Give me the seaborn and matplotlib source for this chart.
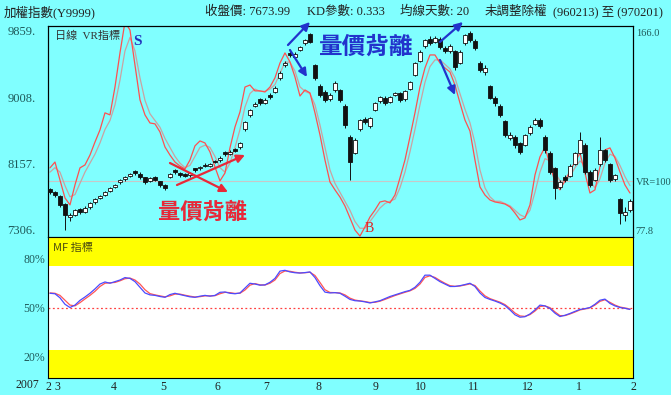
import numpy as np
import pandas as pd
import matplotlib
matplotlib.use('Agg')
import matplotlib.pyplot as plt
import seaborn as sns

sns.set_style('white')
plt.rcParams['font.family'] = ['Liberation Serif', 'Noto Sans CJK TC', 'DejaVu Sans']

# ---------------- data ----------------
opens = [7830,7790,7740,7640,7470,7500,7575,7540,7600,7660,
         7720,7760,7810,7860,7920,7960,8000,8060,8030,7980,
         7940,7990,7930,7880,7990,8070,8040,8025,8010,8090,
         8100,8140,8130,8190,8200,8300,8290,8340,8370,8600,
         8780,8900,8980,8940,9040,9080,9250,9420,9580,9520,
         9620,9700,9820,9420,9150,9080,8980,9100,9100,8900,
         8500,8300,8600,8730,8640,8850,8960,9000,8950,9040,
         9060,8980,9120,9300,9480,9660,9760,9720,9760,9640,
         9600,9600,9450,9700,9830,9730,9450,9330,9150,9000,
         8900,8700,8480,8500,8420,8400,8550,8670,8720,8500,
         8300,8100,7860,7990,8000,8150,8300,8400,8050,7950,
         8150,8330,8150,7960,7700,7500,7560]
closes = [7793,7755,7627,7498,7498,7562,7537,7588,7652,7704,
          7742,7793,7845,7883,7947,7986,8024,8037,7986,7922,
          7973,7947,7883,7845,8024,8050,8011,7999,8037,8076,
          8114,8127,8153,8178,8230,8281,8307,8332,8422,8691,
          8845,8922,8935,8974,9012,9128,9320,9448,9551,9564,
          9654,9744,9718,9256,9038,8974,9038,9192,8974,8653,
          8178,8461,8717,8691,8743,8935,9012,8935,9012,9064,
          8974,9089,9205,9448,9590,9744,9705,9769,9654,9602,
          9667,9397,9590,9808,9744,9641,9359,9384,8999,8935,
          8781,8525,8525,8396,8307,8525,8627,8717,8640,8332,
          8050,7845,7922,7947,8127,8294,8461,8050,7883,8076,
          8332,8204,7947,8011,7524,7537,7674]
highs = [7850,7810,7760,7650,7530,7580,7590,7610,7670,7720,
         7760,7810,7860,7900,7960,8000,8040,8080,8050,7990,
         7990,8000,7940,7890,8040,8090,8050,8040,8050,8100,
         8130,8160,8170,8210,8250,8320,8330,8360,8440,8710,
         8860,8950,9000,9000,9060,9150,9340,9470,9600,9590,
         9670,9760,9833,9440,9180,9100,9060,9220,9120,8920,
         8520,8480,8730,8750,8760,8950,9030,9020,9030,9080,
         9080,9100,9220,9460,9610,9760,9790,9790,9780,9660,
         9690,9620,9610,9820,9859,9750,9470,9420,9170,9020,
         8920,8720,8560,8520,8440,8540,8650,8740,8740,8520,
         8320,8120,7950,8010,8150,8310,8560,8420,8070,8100,
         8500,8350,8170,8030,7720,7600,7700]
lows = [7770,7730,7600,7306,7420,7480,7510,7520,7580,7640,
        7700,7740,7790,7840,7900,7940,7980,8010,7960,7900,
        7920,7930,7860,7820,7970,8030,7990,7980,7990,8050,
        8080,8110,8110,8160,8180,8260,8270,8310,8350,8580,
        8760,8880,8910,8920,8990,9060,9230,9400,9530,9500,
        9600,9680,9700,9230,9010,8950,8960,9080,8950,8620,
        7947,8280,8580,8660,8620,8830,8940,8910,8930,9020,
        8950,8960,9100,9280,9460,9640,9680,9700,9630,9580,
        9580,9360,9430,9680,9720,9620,9330,9300,8980,8900,
        8760,8500,8460,8360,8280,8380,8530,8650,8620,8300,
        8020,7700,7830,7920,7980,8140,8280,8020,7860,7930,
        8130,8180,7920,7940,7384,7420,7540]

vr = [105.9,108.5,100.5,92.5,89.4,98.3,105.9,107.2,111.6,117.4,
      122.8,130.4,129.5,141.9,157.1,170.9,167.3,151.7,136.2,129.5,
      125.9,125.5,121.9,115.2,111.6,108.5,106.7,105.4,109.4,115.7,
      117.9,117.0,113.0,106.3,100.1,103.6,114.8,124.1,130.8,141.9,
      142.8,140.2,140.2,139.7,141.9,146.0,152.6,157.1,153.1,146.4,
      137.9,140.6,139.3,130.4,120.6,109.4,99.6,96.1,92.9,88.9,
      83.6,78.2,75.5,79.6,84.0,87.1,90.7,91.2,90.3,93.8,
      101.4,109.4,119.7,130.4,141.9,150.4,156.2,156.2,152.6,150.4,
      148.6,142.8,134.8,127.2,122.3,109.4,97.4,93.8,91.6,90.7,
      90.3,89.8,88.5,85.8,82.7,83.6,89.4,102.7,110.8,115.2,
      107.2,99.6,96.1,100.1,104.5,108.5,112.5,103.6,94.7,96.1,
      106.3,113.9,114.8,110.3,104.1,98.3,94.7]
vr_avg = [104,106,104,98,93,94,99,104,108,112,
          117,123,127,134,145,158,164,158,146,136,
          130,127,124,119,115,111,108,106,107,111,
          115,116,115,111,106,104,108,115,123,133,
          139,141,140,140,141,143,148,153,153,149,
          142,140,139,134,125,115,105,99,95,91,
          87,82,79,79,82,85,88,90,91,92,
          97,104,113,123,134,144,151,154,154,152,
          150,146,139,132,126,117,105,97,93,91,
          91,90,89,87,85,84,87,95,104,110,
          109,104,100,100,102,106,109,107,100,97,
          101,108,112,111,107,102,98]

mf_blue = [58.8,58.5,56.0,52.0,50.0,51.5,54.4,56.5,58.8,61.5,
           64.5,65.8,65.0,66.0,67.0,68.5,68.0,66.0,62.5,59.0,
           57.8,57.5,56.8,56.3,58.0,58.8,58.0,57.3,56.6,56.3,
           57.0,57.5,57.0,57.5,59.4,59.6,58.8,58.5,59.0,62.0,
           65.0,64.5,63.8,64.0,65.6,68.0,72.5,73.0,72.0,71.5,
           71.3,71.6,72.0,68.5,63.5,59.5,59.0,59.2,58.8,57.0,
           55.0,54.2,54.0,53.5,52.8,53.5,54.2,55.5,56.8,57.8,
           58.8,59.8,60.6,62.5,65.6,70.0,70.0,68.0,66.0,64.5,
           63.0,63.0,63.5,64.2,65.0,63.0,59.0,56.2,55.0,54.0,
           52.8,51.2,48.5,45.5,44.0,44.3,46.0,48.5,51.5,51.0,
           49.4,46.5,44.4,45.2,46.3,47.6,48.8,49.3,50.0,52.0,
           54.5,55.2,52.5,51.0,50.0,49.5,48.8]
mf_red = [59.0,58.8,57.5,54.5,51.5,51.0,53.0,55.3,57.5,60.0,
          63.0,65.0,65.3,65.5,66.5,67.8,68.2,67.0,64.5,61.0,
          58.6,57.8,57.2,56.6,57.2,58.3,58.3,57.6,57.0,56.5,
          56.7,57.2,57.2,57.3,58.5,59.4,59.2,58.7,58.8,60.8,
          63.8,64.8,64.0,63.9,65.0,67.0,71.0,72.6,72.4,71.8,
          71.4,71.5,71.8,69.8,65.5,61.0,59.3,59.2,59.0,57.8,
          55.8,54.6,54.1,53.7,53.1,53.2,53.9,55.0,56.2,57.4,
          58.4,59.4,60.3,61.8,64.5,68.6,69.6,68.6,66.7,65.0,
          63.5,63.1,63.3,63.9,64.6,63.6,60.2,57.2,55.5,54.4,
          53.3,51.8,49.4,46.6,44.8,44.5,45.6,47.8,50.6,51.0,
          49.9,47.3,45.0,45.0,46.0,47.2,48.5,49.1,49.8,51.5,
          53.8,54.8,53.2,51.5,50.3,49.7,49.0]

month_pos = [-0.4, 1.4, 12.8, 22.6, 33.4, 43.2, 53.8, 65.2, 74.2, 84.8, 95.6, 105.8, 116.6]
month_labels = ['2', '3', '4', '5', '6', '7', '8', '9', '10', '11', '12', '1', '2']
price_ticks = [9859, 9008, 8157, 7306]
price_labels = ['9859.', '9008.', '8157.', '7306.']
vr_ticks = [166.0, 100, 77.8]
vr_labels = ['166.0', 'VR=100', '77.8']
mf_ticks = [80, 50, 20]
mf_labels = ['80%', '50%', '20%']

# ---------------- frame ----------------
CYAN = '#80FFFF'
YEL = '#FFFF00'
TEAL = '#1f5a5a'
df = pd.DataFrame({'idx': np.arange(len(closes)), 'open': opens, 'close': closes,
                   'high': highs, 'low': lows, 'vr': vr, 'vr_avg': vr_avg,
                   'mf_blue': mf_blue, 'mf_red': mf_red})

fig = plt.figure(figsize=(6.71, 3.95), dpi=100, facecolor=CYAN)
ax = fig.add_axes([0.0715, 0.4, 0.8718, 0.5342])
ax2 = ax.twinx()
axm = fig.add_axes([0.0715, 0.043, 0.8718, 0.357])

ax.set_zorder(ax2.get_zorder() + 1)
ax.patch.set_visible(False)
ax2.set_facecolor('white')

# VR lines (right axis)
ax2.axhline(100, color='#c8c8c8', lw=0.8, zorder=1)
sns.lineplot(data=df, x='idx', y='vr_avg', ax=ax2, color='#c9a3a3', lw=0.9, legend=False)
sns.lineplot(data=df, x='idx', y='vr', ax=ax2, color='#ff5050', lw=0.9, legend=False)
ax2.set_ylim(75.1, 169.1)
ax2.set_yticks(vr_ticks)
ax2.set_yticklabels(vr_labels, fontsize=7.5, color=TEAL)
ax2.tick_params(axis='y', length=0, pad=2)
ax2.set_ylabel('')
ax2.set_xlabel('')

# Candles (left axis)
o = df['open'].to_numpy(float); c = df['close'].to_numpy(float)
hgt = np.maximum(np.abs(c - o), 24)
bot = (o + c) / 2 - hgt / 2
cols = np.where(c < o, '#111111', 'white')
ax.vlines(df['idx'], df['low'], df['high'], color='#111111', lw=0.7, zorder=2)
ax.bar(df['idx'], hgt, bottom=bot, width=0.75, color=cols, edgecolor='#111111', linewidth=0.6, zorder=3)
ax.set_ylim(7216, 9923)
ax.set_yticks(price_ticks)
ax.set_yticklabels(price_labels, fontsize=9, color=TEAL)
ax.tick_params(axis='y', length=0, pad=9)
ax.set_xlim(-0.4, 116.6)
ax.set_xticks([])
for a in (ax, ax2):
    for s in a.spines.values():
        s.set_color('black'); s.set_linewidth(0.8)

# annotations on the price panel
ax.text(0.012, 0.955, '日線  VR指標', transform=ax.transAxes, fontsize=8, color='#333333',
        va='center', ha='left', family=['Liberation Serif', 'Noto Sans CJK TC'])
ax.text(17.4, 9718, 'S', fontsize=11, color='#2233bb', fontweight='bold', ha='center', va='center')
ax.text(63.8, 7319, 'B', fontsize=10, color='#e02020', ha='center', va='center')
ax.text(30.6, 7537, '量價背離', fontsize=16, color='#e82838', fontweight='bold',
        ha='center', va='center', family=['Noto Sans CJK TC'])
ax.text(63.2, 9654, '量價背離', fontsize=17, color='#2233cc', fontweight='bold',
        ha='center', va='center', family=['Noto Sans CJK TC'])

def arrow(x0, y0, x1, y1, col):
    ax.annotate('', xy=(x1, y1), xytext=(x0, y0), annotation_clip=False,
                arrowprops=dict(arrowstyle='-|>', color=col, lw=1.6, mutation_scale=12,
                                shrinkA=0, shrinkB=0))

arrow(24, 8165, 35.6, 7793, '#e82838')
arrow(25.4, 7883, 39, 8268, '#e82838')
arrow(47.6, 9679, 52, 9974, '#2233cc')
arrow(48, 9615, 51.4, 9269, '#2233cc')
arrow(78, 9718, 82.6, 9974, '#2233cc')
arrow(78, 9487, 81, 9038, '#2233cc')

# ---------------- MF panel ----------------
axm.set_facecolor('white')
axm.axhspan(75.7, 93.6, color=YEL, zorder=0, lw=0)
axm.axhspan(6.4, 23.7, color=YEL, zorder=0, lw=0)
axm.axhline(50, color='#ff4040', lw=0.9, ls=(0, (1.5, 2)), zorder=1)
sns.lineplot(data=df, x='idx', y='mf_red', ax=axm, color='#ff5555', lw=0.9, legend=False)
sns.lineplot(data=df, x='idx', y='mf_blue', ax=axm, color='#4b4bff', lw=0.9, legend=False)
axm.set_ylim(6.4, 93.6)
axm.set_xlim(-0.4, 116.6)
axm.set_yticks(mf_ticks)
axm.set_yticklabels(mf_labels, fontsize=8.5, color=TEAL)
axm.tick_params(axis='y', length=0, pad=2)
axm.set_xticks(month_pos)
axm.set_xticklabels(month_labels, fontsize=8.5, color='#222222')
axm.tick_params(axis='x', direction='in', length=6, width=0.8, color='#333333', pad=2)
axm.set_xlabel(''); axm.set_ylabel('')
for k, s in axm.spines.items():
    s.set_color('black'); s.set_linewidth(0.8)
axm.spines['top'].set_visible(False)
axm.text(0.009, 0.925, 'MF 指標', transform=axm.transAxes, fontsize=8, color='#4a4a10',
         va='center', ha='left', family=['Noto Sans CJK TC'])

# ---------------- header ----------------
hdr = dict(fontsize=9, color='#222222', va='center', ha='left',
           family=['Liberation Serif', 'Noto Sans CJK TC'])
H = 1 - 12 / 395
fig.text(4 / 671, H, '加權指數(Y9999)', **hdr)
fig.text(205 / 671, H, '收盤價: 7673.99', **hdr)
fig.text(307 / 671, H, 'KD參數: 0.333', **hdr)
fig.text(400 / 671, H, '均線天數: 20', **hdr)
fig.text(485 / 671, H, '未調整除權', **hdr)
fig.text(553 / 671, H, '(960213) 至 (970201)', **hdr)
fig.text(27 / 671, 1 - 385 / 395, '2007', fontsize=8.5, color='#222222', ha='center', va='center')

fig.savefig('out.png', dpi=100, facecolor=fig.get_facecolor())
